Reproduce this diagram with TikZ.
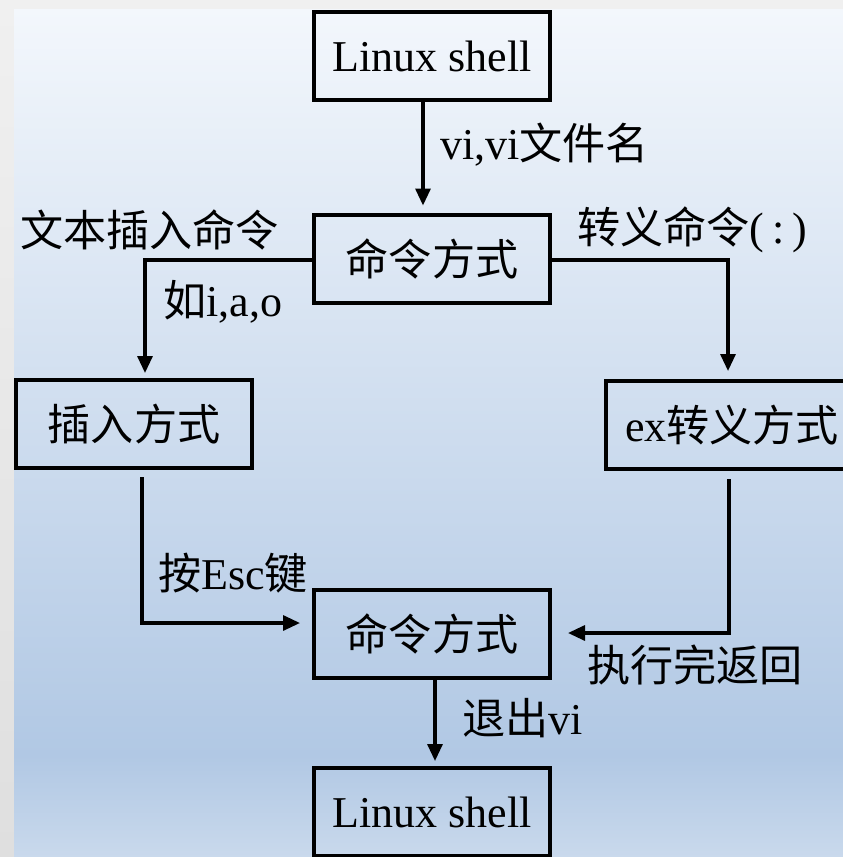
\documentclass[tikz,border=0pt]{standalone}
\usepackage{fontspec}
\setmainfont{Liberation Serif}
\newfontfamily\cjk[Scale=0.98]{Noto Sans CJK SC}
\usetikzlibrary{arrows.meta,calc}
\definecolor{bgtop}{HTML}{F3F7FC}
\definecolor{bgmid}{HTML}{B1C8E4}
\definecolor{bgbot}{HTML}{C9D9EC}
\definecolor{striptop}{HTML}{F0F0F0}
\definecolor{stripbot}{HTML}{DFDFDF}
\pgfdeclareverticalshading{bgshade}{100bp}{color(0bp)=(bgbot); color(25bp)=(bgbot); color(31bp)=(bgmid); color(75bp)=(bgtop); color(100bp)=(bgtop)}
\tikzset{
  box/.style={draw=black, line width=4pt, minimum width=236pt, minimum height=88pt, inner sep=0pt, font=\fontsize{44}{50}\selectfont},
  lbl/.style={inner sep=0pt, anchor=west, font=\fontsize{44}{50}\selectfont},
  arr/.style={draw=black, line width=3.2pt, -{Triangle[length=17pt,width=15pt]}},
}
\begin{document}
\begin{tikzpicture}[x=1pt,y=-1pt]
\useasboundingbox (0,0) rectangle (843,857);
\shade[top color=striptop, bottom color=stripbot] (0,0) rectangle (843,857);
\shade[shading=bgshade] (14,9) rectangle (843,857);
% boxes
\node[box] (top) at (432,56) {Linux shell};
\node[box] (cmd1) at (432,258.5) {\cjk 命令方式};
\node[box] (insert) at (134,424) {\cjk 插入方式};
\node[box, minimum width=250pt, text width=236pt, align=left] (ex) at (731,425) {\hspace*{12pt}ex{\cjk 转义方式}};
\node[box] (cmd2) at (432,634) {\cjk 命令方式};
\node[box] (bot) at (432,812) {Linux shell};
% connectors
\draw[arr, shorten >=7pt] ([xshift=-9pt]top.south) -- ([xshift=-9pt]cmd1.north);
\draw[arr, shorten >=5pt] ([yshift=-1.5pt]cmd1.west) -| ([xshift=11pt]insert.north);
\draw[arr, shorten >=8pt] ([yshift=-1.5pt]cmd1.east) -| ([xshift=-3pt]ex.north);
\draw[arr, shorten <=7pt, shorten >=12pt] ([xshift=8pt]insert.south) |- ([yshift=11pt]cmd2.west);
\draw[arr, shorten <=8pt, shorten >=16pt] ([xshift=-2pt]ex.south) |- ([yshift=1pt]cmd2.east);
\draw[arr, shorten >=5pt] ([xshift=3pt]cmd2.south) -- ([xshift=3pt]bot.north);
% labels
\node[lbl] (l1) at (440,145) {vi,vi{\cjk 文件名}};
\node[lbl] (l2) at (20,230) {\cjk 文本插入命令};
\node[lbl] (l3) at (163,302) {{\cjk 如}i,a,o};
\node[lbl] (l4) at (577,230) {{\cjk 转义命令}(\hspace{8pt}:\hspace{8pt})};
\node[lbl] (l5) at (158,573) {{\cjk 按}Esc{\cjk 键}};
\node[lbl] (l6) at (587,665) {\cjk 执行完返回};
\node[lbl] (l7) at (462,718) {{\cjk 退出}vi};
\end{tikzpicture}
\end{document}
